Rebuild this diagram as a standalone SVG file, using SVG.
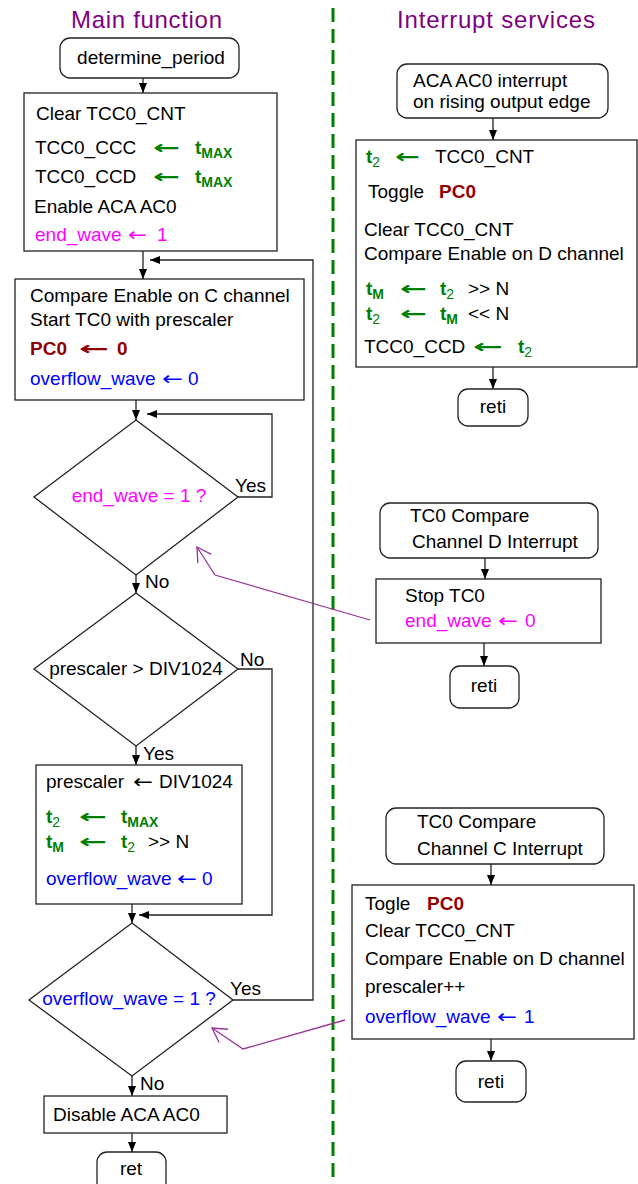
<svg xmlns="http://www.w3.org/2000/svg" width="638" height="1184" viewBox="0 0 638 1184">
<style>
text{font-family:"Liberation Sans",Arial,sans-serif;font-size:19px;fill:#000}
.title{font-size:24px;fill:#800080}
.c{text-anchor:middle}
.g{fill:#008000;font-weight:bold}
.sub{font-size:14px}
.n{font-weight:normal}
.mg{fill:#FF00FF}
.bl{fill:#0000FF}
.rd{fill:#900000;font-weight:bold}
.ar{font-family:"DejaVu Sans",sans-serif}
.box{fill:#fff;stroke:#222;stroke-width:1.3}
.ln{fill:none;stroke:#222;stroke-width:1.3;marker-end:url(#ah)}
.pl{fill:none;stroke:#993399;stroke-width:1.3;marker-end:url(#pa)}
.sep{stroke:#008000;stroke-width:3;stroke-dasharray:14 7}
</style>
<defs>
<marker id="ah" viewBox="0 0 10 8" refX="10" refY="4" markerWidth="10" markerHeight="8" orient="auto" markerUnits="userSpaceOnUse"><path d="M0,0 L10,4 L0,8 z" fill="#000"/></marker>
<marker id="pa" viewBox="-1 -1 16 18" refX="14" refY="8" markerWidth="16" markerHeight="18" orient="auto" markerUnits="userSpaceOnUse"><path d="M0,0 L14,8 L0,16" fill="none" stroke="#993399" stroke-width="1.3"/></marker>
</defs>
<rect width="638" height="1184" fill="#fff"/>
<line class="sep" x1="333" y1="8" x2="333" y2="1184"/>
<text class="title c" x="146.5" y="28" textLength="151">Main function</text>
<text class="title c" x="496" y="28" textLength="198">Interrupt services</text>

<g id="start">
<rect class="box" x="60" y="38" width="179" height="40" rx="10"/>
<text class="c" x="151" y="64">determine_period</text>
</g>
<g id="init">
<rect class="box" x="24" y="93" width="253" height="158"/>
<text x="36" y="120">Clear TCC0_CNT</text>
<text x="35" y="154">TCC0_CCC</text>
<text class="g ar" x="153" y="154" textLength="27" lengthAdjust="spacingAndGlyphs">←</text>
<text class="g" x="195" y="154">t<tspan class="sub" dy="4">MAX</tspan></text>
<text x="35" y="183">TCC0_CCD</text>
<text class="g ar" x="153" y="183" textLength="27" lengthAdjust="spacingAndGlyphs">←</text>
<text class="g" x="195" y="183">t<tspan class="sub" dy="4">MAX</tspan></text>
<text x="34" y="213">Enable ACA AC0</text>
<text class="mg" x="35" y="241">end_wave</text>
<text class="mg ar" x="128" y="241" textLength="19" lengthAdjust="spacingAndGlyphs">←</text>
<text class="mg" x="157" y="241">1</text>
</g>
<g id="start_tc">
<rect class="box" x="15" y="279" width="289" height="121"/>
<text x="30" y="302">Compare Enable on C channel</text>
<text x="30" y="326">Start TC0 with prescaler</text>
<text class="rd" x="30" y="355">PC0</text>
<text class="rd ar" x="79" y="355" textLength="30" lengthAdjust="spacingAndGlyphs">←</text>
<text class="rd" x="117" y="355">0</text>
<text class="bl" x="30" y="385">overflow_wave</text>
<text class="bl ar" x="162" y="385" textLength="21" lengthAdjust="spacingAndGlyphs">←</text>
<text class="bl" x="188" y="385">0</text>
</g>
<g id="dec_end">
<polygon class="box" points="136,420 238,497 136,575 34,497"/>
<text class="mg c" x="139" y="502">end_wave = 1 ?</text>
</g>
<g id="dec_presc">
<polygon class="box" points="136,593 238,669 136,746 34,669"/>
<text class="c" x="136" y="675">prescaler &gt; DIV1024</text>
</g>
<g id="clamp">
<rect class="box" x="36" y="765" width="206" height="139"/>
<text x="46" y="788">prescaler</text>
<text class="ar" x="133" y="788" textLength="20" lengthAdjust="spacingAndGlyphs">←</text>
<text x="159" y="788">DIV1024</text>
<text class="g" x="46" y="823">t<tspan class="sub n" dy="4">2</tspan></text>
<text class="g ar" x="79" y="823" textLength="28" lengthAdjust="spacingAndGlyphs">←</text>
<text class="g" x="121" y="823">t<tspan class="sub" dy="4">MAX</tspan></text>
<text class="g" x="46" y="848">t<tspan class="sub" dy="4">M</tspan></text>
<text class="g ar" x="79" y="848" textLength="28" lengthAdjust="spacingAndGlyphs">←</text>
<text class="g" x="121" y="848">t<tspan class="sub n" dy="4">2</tspan></text>
<text x="148" y="848">&gt;&gt; N</text>
<text class="bl" x="46" y="885">overflow_wave</text>
<text class="bl ar" x="177" y="885" textLength="20" lengthAdjust="spacingAndGlyphs">←</text>
<text class="bl" x="202" y="885">0</text>
</g>
<g id="dec_ovf">
<polygon class="box" points="132,923 233,1000 132,1076 29,1000"/>
<text class="bl c" x="129" y="1005">overflow_wave = 1 ?</text>
</g>
<g id="disable">
<rect class="box" x="44" y="1096" width="183" height="37"/>
<text x="53" y="1121">Disable ACA AC0</text>
</g>
<g id="ret">
<rect class="box" x="97" y="1152" width="69" height="40" rx="10"/>
<text class="c" x="131" y="1175">ret</text>
</g>

<g id="isr_ac">
<rect class="box" x="397" y="64" width="211" height="54" rx="10"/>
<text x="413" y="87">ACA AC0 interrupt</text>
<text x="413" y="108">on rising output edge</text>
</g>
<g id="isr_ac_body">
<rect class="box" x="356" y="140" width="281" height="227"/>
<text class="g" x="366" y="163">t<tspan class="sub n" dy="4">2</tspan></text>
<text class="g ar" x="395" y="163" textLength="25" lengthAdjust="spacingAndGlyphs">←</text>
<text x="435" y="163">TCC0_CNT</text>
<text x="368" y="198">Toggle</text>
<text class="rd" x="439" y="198">PC0</text>
<text x="364" y="236">Clear TCC0_CNT</text>
<text x="364" y="260">Compare Enable on D channel</text>
<text class="g" x="366" y="295">t<tspan class="sub" dy="4">M</tspan></text>
<text class="g ar" x="400" y="295" textLength="27" lengthAdjust="spacingAndGlyphs">←</text>
<text class="g" x="440" y="295">t<tspan class="sub n" dy="4">2</tspan></text>
<text x="468" y="295">&gt;&gt; N</text>
<text class="g" x="366" y="320">t<tspan class="sub n" dy="4">2</tspan></text>
<text class="g ar" x="400" y="320" textLength="27" lengthAdjust="spacingAndGlyphs">←</text>
<text class="g" x="440" y="320">t<tspan class="sub" dy="4">M</tspan></text>
<text x="468" y="320">&lt;&lt; N</text>
<text x="364" y="353">TCC0_CCD</text>
<text class="g ar" x="473" y="353" textLength="30" lengthAdjust="spacingAndGlyphs">←</text>
<text class="g" x="518" y="353">t<tspan class="sub n" dy="4">2</tspan></text>
</g>
<g id="reti1">
<rect class="box" x="458" y="389" width="70" height="37" rx="10"/>
<text class="c" x="493" y="413">reti</text>
</g>
<g id="isr_d">
<rect class="box" x="380" y="503" width="218" height="55" rx="10"/>
<text x="410" y="522">TC0 Compare</text>
<text x="412" y="548">Channel D Interrupt</text>
</g>
<g id="isr_d_body">
<rect class="box" x="376" y="579" width="225" height="64"/>
<text x="405" y="602">Stop TC0</text>
<text class="mg" x="405" y="627">end_wave</text>
<text class="mg ar" x="498" y="627" textLength="20" lengthAdjust="spacingAndGlyphs">←</text>
<text class="mg" x="525" y="627">0</text>
</g>
<g id="reti2">
<rect class="box" x="450" y="666" width="69" height="42" rx="10"/>
<text class="c" x="484" y="692">reti</text>
</g>
<g id="isr_c">
<rect class="box" x="386" y="808" width="218" height="56" rx="10"/>
<text x="417" y="828">TC0 Compare</text>
<text x="417" y="855">Channel C Interrupt</text>
</g>
<g id="isr_c_body">
<rect class="box" x="352" y="885" width="282" height="154"/>
<text x="365" y="910">Togle</text>
<text class="rd" x="427" y="910">PC0</text>
<text x="365" y="937">Clear TCC0_CNT</text>
<text x="365" y="965">Compare Enable on D channel</text>
<text x="365" y="993">prescaler++</text>
<text class="bl" x="365" y="1023">overflow_wave</text>
<text class="bl ar" x="497" y="1023" textLength="20" lengthAdjust="spacingAndGlyphs">←</text>
<text class="bl" x="524" y="1023">1</text>
</g>
<g id="reti3">
<rect class="box" x="456" y="1061" width="70" height="41" rx="10"/>
<text class="c" x="491" y="1088">reti</text>
</g>

<g id="connectors">
<line class="ln" x1="143" y1="78" x2="143" y2="93"/>
<line class="ln" x1="143" y1="251" x2="143" y2="279"/>
<line class="ln" x1="136" y1="400" x2="136" y2="420"/>
<polyline class="ln" points="238,497 272,497 272,414 147,414"/>
<line class="ln" x1="136" y1="575" x2="136" y2="593"/>
<polyline class="ln" points="238,669 272,669 272,915 139,915"/>
<line class="ln" x1="136" y1="746" x2="136" y2="765"/>
<line class="ln" x1="132" y1="904" x2="132" y2="923"/>
<polyline class="ln" points="233,1000 313,1000 313,260 150,260"/>
<line class="ln" x1="132" y1="1076" x2="132" y2="1096"/>
<line class="ln" x1="132" y1="1133" x2="132" y2="1152"/>
<line class="ln" x1="493" y1="118" x2="493" y2="140"/>
<line class="ln" x1="493" y1="367" x2="493" y2="389"/>
<line class="ln" x1="485" y1="558" x2="485" y2="579"/>
<line class="ln" x1="484" y1="643" x2="484" y2="666"/>
<line class="ln" x1="491" y1="864" x2="491" y2="885"/>
<line class="ln" x1="491" y1="1039" x2="491" y2="1061"/>
<polyline class="pl" points="370,620 215,575 197,547"/>
<polyline class="pl" points="345,1020 243,1049 212,1028"/>
<text x="235" y="492">Yes</text>
<text x="145" y="588">No</text>
<text x="240" y="666">No</text>
<text x="143" y="760">Yes</text>
<text x="230" y="995">Yes</text>
<text x="140" y="1090">No</text>
</g>
</svg>
